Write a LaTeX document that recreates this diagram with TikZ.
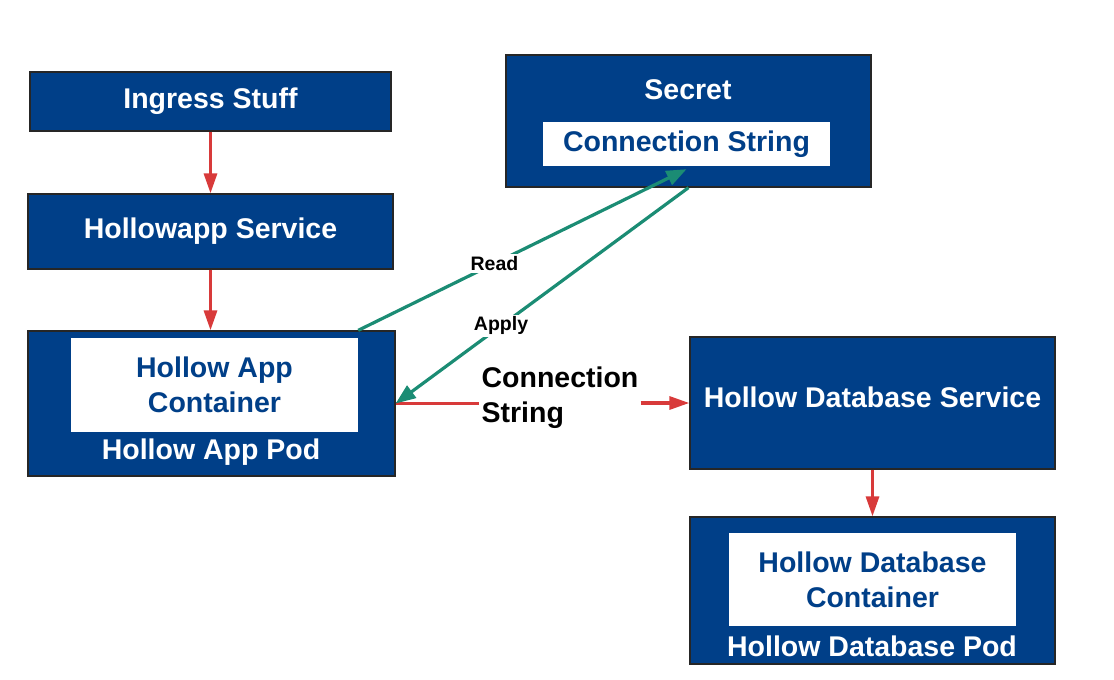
\documentclass[tikz,border=0pt]{standalone}
\usepackage{fontspec}
\setmainfont{Liberation Sans}
\usetikzlibrary{arrows.meta}
\usetikzlibrary{calc,positioning}

\definecolor{podblue}{HTML}{003F88}
\definecolor{linkred}{HTML}{D83A3A}
\definecolor{secretteal}{HTML}{1B8C74}

\begin{document}
\begin{tikzpicture}[x=1pt, y=-1pt, >=Triangle,
    bluebox/.style={draw=black!85, fill=podblue, line width=1.3pt, inner sep=0pt},
    whitebox/.style={fill=white, inner sep=0pt, align=center, text=podblue},
    bigtext/.style={font=\bfseries\fontsize{28.5}{35}\selectfont},
    redarrow/.style={draw=linkred, line width=3.2pt, -{Triangle[length=20pt, width=13pt]}},
    tealarrow/.style={draw=secretteal, line width=3.2pt, -{Triangle[length=20pt, width=15pt]}},
    smalltext/.style={font=\bfseries\fontsize{19.5}{23}\selectfont, fill=white, inner sep=2pt}]

    \useasboundingbox (0,0) rectangle (1114,680);

    % left column
    \node[bluebox, bigtext, text=white, minimum width=361pt, minimum height=59pt] (ingress) at (210.5,101.5) {Ingress Stuff};
    \node[bluebox, bigtext, text=white, minimum width=365pt, minimum height=75pt] (appsvc) at (210.5,231.5) {Hollowapp Service};
    \node[bluebox, minimum width=367pt, minimum height=145pt] (apppod) at (211.5,403.5) {};
    \node[whitebox, bigtext, minimum width=287pt, minimum height=94pt] (appcont) at (214.5,385) {Hollow App\\Container};
    \node[bigtext, text=white, inner sep=0pt] (apppodlbl) at (211,452) {Hollow App Pod};

    % secret
    \node[bluebox, minimum width=365pt, minimum height=132pt] (secret) at (688.5,121) {};
    \node[bigtext, text=white, inner sep=0pt] (secretlbl) at (688,90) {Secret};
    \node[whitebox, bigtext, minimum width=287pt, minimum height=44pt] (secretconn) at (686.5,144) {Connection String};

    % database side
    \node[bluebox, bigtext, text=white, text depth=12pt, minimum width=365pt, minimum height=132pt] (dbsvc) at (872.5,403) {Hollow Database Service};
    \node[bluebox, minimum width=365pt, minimum height=147pt] (dbpod) at (872.5,590.5) {};
    \node[whitebox, bigtext, minimum width=287pt, minimum height=93pt] (dbcont) at (872.5,579.5) {Hollow Database\\Container};
    \node[bigtext, text=white, inner sep=0pt] (dbpodlbl) at (872,646) {Hollow Database Pod};

    \node[bigtext, align=left, inner sep=2pt] (connlbl) at (560,398) {Connection\\String};

    % red links
    \draw[redarrow] (ingress.south) -- (appsvc.north);
    \draw[redarrow] (appsvc.south) -- (appsvc.south |- apppod.north);
    \draw[redarrow] (dbsvc.south) -- (dbpod.north);
    \draw[draw=linkred, line width=3.2pt] (apppod.east) -- (apppod.east -| connlbl.west);
    \draw[redarrow] (connlbl.east |- dbsvc.west) -- (dbsvc.west);

    % secret links
    \draw[tealarrow] (appcont.east |- apppod.north) -- ($(secretconn.south)+(0,3)$) node[smalltext, pos=0.415] {Read};
    \draw[tealarrow] (secret.south) -- (apppod.east) node[smalltext, pos=0.64] {Apply};

\end{tikzpicture}
\end{document}
